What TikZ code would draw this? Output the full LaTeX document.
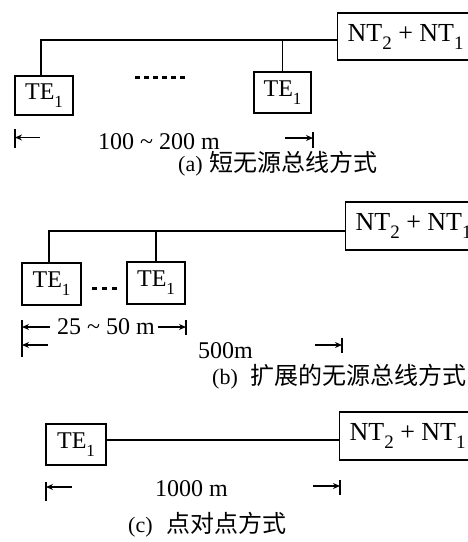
\documentclass[tikz,border=0pt]{standalone}
\usepackage{fontspec}
\setmainfont{Liberation Serif}
\newfontfamily\cjk{Noto Sans CJK SC}
\usetikzlibrary{arrows.meta}
\newcommand\lowsub[2]{\raisebox{-8pt}{\fontsize{#1}{#1}\selectfont #2}}
\begin{document}
\begin{tikzpicture}[x=1pt,y=-1pt,
  box/.style={draw, line width=1.2pt, inner sep=0pt, rectangle},
  tebox/.style={box, minimum width=58pt, minimum height=40pt, font=\fontsize{24}{28}\selectfont},
  ntbox/.style={box, anchor=west, minimum height=48pt, inner xsep=10pt, font=\fontsize{26}{30}\selectfont},
  wire/.style={line width=1.2pt},
  dimbar/.style={line width=1.3pt},
  dimarrow/.style={line width=1.2pt, -{Stealth[length=7pt,width=6pt]}},
  dimtext/.style={font=\fontsize{24}{28}\selectfont, inner sep=0pt, anchor=west},
  capnode/.style={font=\fontsize{22}{26}\selectfont, inner sep=0pt, anchor=west},
  dotrow/.style={line width=3pt, dash pattern=on 5pt off 4pt}
]
\useasboundingbox (0,0) rectangle (468,542);
\fill[white] (0,0) rectangle (468,542);

% ---------- (a) ----------
\coordinate (busa) at (0,40);
\node[ntbox, minimum height=47pt] (nta) at (337,36.5) {NT\lowsub{19}{2} + NT\lowsub{19}{1}};
\node[tebox, minimum height=39pt] (te1a) at (44,95.5) {TE\lowsub{17}{1}};
\node[tebox, minimum height=41pt, minimum width=57pt] (te2a) at (282.5,92.5) {TE\lowsub{17}{1}};
\draw[wire] ([xshift=-3pt]te1a.north) |- (nta.west |- busa);
\draw[wire] (te2a.north) -- (te2a.north |- busa);
\draw[dotrow] (135,77) -- (185,77);
\draw[dimbar] (15,129) -- (15,148);
\draw[dimarrow] (40,137.5) -- (15,137.5);
\node[dimtext] (dima) at (98,142) {100 \textasciitilde{} 200 m};
\draw[dimarrow] (285,138) -- (313,138);
\draw[dimbar] (313,132) -- (313,148);
\node[capnode] (capa) at (178,164) {(a)\hspace{7pt}{\cjk\fontsize{24}{28}\selectfont 短无源总线方式}};

% ---------- (b) ----------
\coordinate (busb) at (0,231);
\node[ntbox] (ntb) at (345,226) {NT\lowsub{19}{2} + NT\lowsub{19}{1}};
\node[tebox, minimum width=59pt, minimum height=42pt] (te1b) at (51.5,284) {TE\lowsub{17}{1}};
\node[tebox, minimum height=42pt] (te2b) at (156,283) {TE\lowsub{17}{1}};
\draw[wire] ([xshift=-2.5pt]te1b.north) |- (ntb.west |- busb);
\draw[wire] (te2b.north) -- (te2b.north |- busb);
\draw[dotrow, dash pattern=on 5pt off 5pt] (92,288) -- (117,288);
\draw[dimbar] (22,320) -- (22,357);
\draw[dimarrow] (50,327) -- (22,327);
\draw[dimarrow] (48,345) -- (22,345);
\node[dimtext] (dimb) at (57,326.5) {25 \textasciitilde{} 50 m};
\draw[dimarrow] (158,327) -- (186,327);
\draw[dimbar] (186,320) -- (186,335);
\node[dimtext] (dimb2) at (198,350.5) {500m};
\draw[dimarrow] (315,345) -- (342,345);
\draw[dimbar] (342,338) -- (342,353);
\node[capnode] (capb) at (212,377) {(b)\hspace{13pt}{\cjk\fontsize{24}{28}\selectfont 扩展的无源总线方式}};

% ---------- (c) ----------
\coordinate (linec) at (0,440);
\node[ntbox] (ntc) at (339,436) {NT\lowsub{19}{2} + NT\lowsub{19}{1}};
\node[tebox, minimum width=60pt, minimum height=41pt] (tec) at (76,444.5) {TE\lowsub{17}{1}};
\draw[wire] (tec.east |- linec) -- (ntc.west |- linec);
\draw[dimbar] (46,482) -- (46,501);
\draw[dimarrow] (72,487) -- (46,487);
\node[dimtext] (dimc) at (155,489) {1000 m};
\draw[dimarrow] (313,486) -- (340,486);
\draw[dimbar] (340,480) -- (340,495);
\node[capnode] (capc) at (128,525) {(c)\hspace{14pt}{\cjk\fontsize{24}{28}\selectfont 点对点方式}};
\end{tikzpicture}
\end{document}
